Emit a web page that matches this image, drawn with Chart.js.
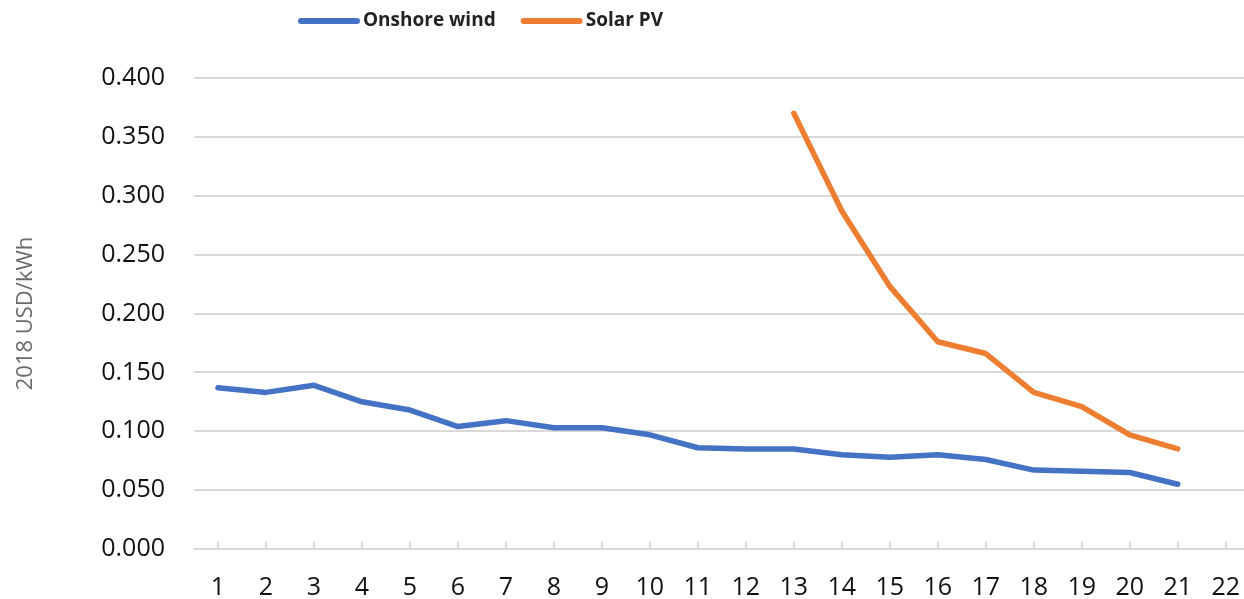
<!DOCTYPE html>
<html>
<head>
<meta charset="utf-8">
<script src="https://cdn.jsdelivr.net/npm/chart.js@4/dist/chart.umd.min.js"></script>
<style>
  html, body { margin: 0; padding: 0; background: #fff; overflow: hidden; }
  #wrap { position: relative; width: 1264px; height: 599px; }
  canvas { display: block; }
</style>
</head>
<body>
<div id="wrap"><canvas id="chart" width="1264" height="599"></canvas></div>
<script>
// Levelised cost of electricity, 2018 USD/kWh
const years = ['1','2','3','4','5','6','7','8','9','10','11','12','13','14','15','16','17','18','19','20','21','22'];
const onshoreWind = [0.137, 0.133, 0.139, 0.125, 0.118, 0.104, 0.109, 0.103, 0.103, 0.097, 0.086, 0.085, 0.085, 0.080, 0.078, 0.080, 0.076, 0.067, 0.066, 0.065, 0.055, null];
const solarPV = [null, null, null, null, null, null, null, null, null, null, null, null, 0.370, 0.287, 0.223, 0.176, 0.166, 0.133, 0.121, 0.097, 0.085, null];
const yTicks = { min: 0, max: 0.4, step: 0.05 };

const GRID = '#d9d9d9';
const FONT = '"Open Sans", "Liberation Sans", sans-serif';

// Small upward tick marks on the category axis
const axisTicks = {
  id: 'axisTicks',
  beforeDatasetsDraw(chart) {
    const x = chart.scales.x, ctx = chart.ctx, b = chart.chartArea.bottom;
    ctx.save();
    ctx.strokeStyle = GRID;
    ctx.lineWidth = 2;
    for (let i = 0; i < x.ticks.length; i++) {
      const px = Math.round(x.getPixelForTick(i));
      ctx.beginPath();
      ctx.moveTo(px, b);
      ctx.lineTo(px, b - 7);
      ctx.stroke();
    }
    ctx.restore();
  }
};

// Line-swatch legend across the top
const topLegend = {
  id: 'topLegend',
  afterDraw(chart) {
    const ctx = chart.ctx;
    ctx.save();
    ctx.font = 'bold 19px ' + FONT;
    ctx.textBaseline = 'middle';
    let x = 298;
    const y = 21;
    chart.data.datasets.forEach(ds => {
      ctx.strokeStyle = ds.borderColor;
      ctx.lineWidth = 6;
      ctx.lineCap = 'round';
      ctx.beginPath();
      ctx.moveTo(x + 3, y);
      ctx.lineTo(x + 59, y);
      ctx.stroke();
      ctx.fillStyle = '#222';
      ctx.fillText(ds.label, x + 65, y);
      x += 65 + ctx.measureText(ds.label).width + 25;
    });
    ctx.restore();
  }
};

new Chart(document.getElementById('chart'), {
  type: 'line',
  data: {
    labels: years,
    datasets: [
      { label: 'Onshore wind', data: onshoreWind, borderColor: '#4472C4', backgroundColor: '#4472C4' },
      { label: 'Solar PV', data: solarPV, borderColor: '#ED7D31', backgroundColor: '#ED7D31' }
    ]
  },
  options: {
    responsive: false,
    animation: false,
    layout: { padding: { top: 78, left: 0, right: 0, bottom: 0 } },
    elements: {
      line: { borderWidth: 5.5, tension: 0, borderCapStyle: 'round', borderJoinStyle: 'round' },
      point: { radius: 0, hoverRadius: 0 }
    },
    plugins: { legend: { display: false }, tooltip: { enabled: false } },
    scales: {
      x: {
        offset: true,
        grid: { display: true, drawOnChartArea: false, drawTicks: false, offset: false },
        border: { color: GRID, width: 2 },
        ticks: { color: '#111', font: { family: FONT, size: 25 }, padding: 24, maxRotation: 0, autoSkip: false },
        afterFit(s) { s.height = 50; }
      },
      y: {
        min: yTicks.min,
        max: yTicks.max,
        grid: { color: GRID, lineWidth: 2, drawTicks: false },
        border: { display: false },
        ticks: {
          stepSize: yTicks.step,
          color: '#111',
          font: { family: FONT, size: 25 },
          padding: 29,
          callback: v => Number(v).toFixed(3)
        },
        title: {
          display: true,
          text: '2018 USD/kWh',
          color: '#6b6b6b',
          font: { family: FONT, size: 22 },
          padding: { top: 13, bottom: 0 }
        },
        afterFit(s) { s.width = 194; }
      }
    }
  },
  plugins: [axisTicks, topLegend]
});
</script>
</body>
</html>
